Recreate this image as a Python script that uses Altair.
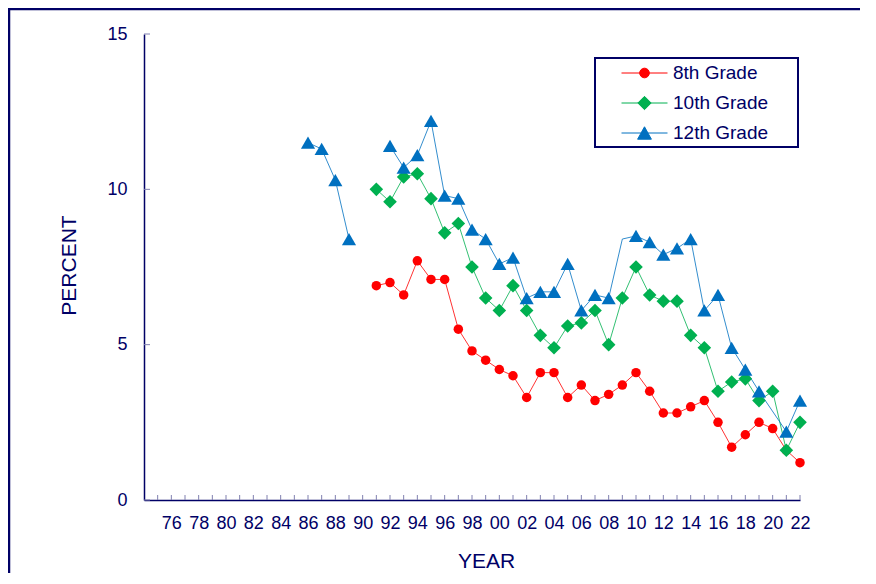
import altair as alt
import pandas as pd

# ---------------- data ----------------
grades = ["8th Grade", "10th Grade", "12th Grade"]
marker_colors = ["#FF0000", "#00B050", "#0070C0"]
marker_shapes = ["circle", "diamond", "triangle-up"]
marker_sizes = [90, 185, 200]

years_8 = list(range(1991, 2023))
values_8 = [6.9, 7.0, 6.6, 7.7, 7.1, 7.1, 5.5, 4.8, 4.5, 4.2,
            4.0, 3.3, 4.1, 4.1, 3.3, 3.7, 3.2, 3.4, 3.7, 4.1,
            3.5, 2.8, 2.8, 3.0, 3.2, 2.5, 1.7, 2.1, 2.5, 2.3,
            1.6, 1.2]

years_10 = list(range(1991, 2023))
values_10 = [10.0, 9.6, 10.4, 10.5, 9.7, 8.6, 8.9, 7.5, 6.5, 6.1,
             6.9, 6.1, 5.3, 4.9, 5.6, 5.7, 6.1, 5.0, 6.5, 7.5,
             6.6, 6.4, 6.4, 5.3, 4.9, 3.5, 3.8, 3.9, 3.2, 3.5,
             1.6, 2.5]

years_12 = [1986, 1987, 1988, 1989] + list(range(1992, 2020)) + [2021, 2022]
values_12 = [11.5, 11.3, 10.3, 8.4,
             11.4, 10.7, 11.1, 12.2, 9.8, 9.7, 8.7, 8.4, 7.6, 7.8,
             6.5, 6.7, 6.7, 7.6, 6.1, 6.6, 6.5, 8.4, 8.5, 8.3,
             7.9, 8.1, 8.4, 6.1, 6.6, 4.9, 4.2, 3.5,
             2.2, 3.2]
no_marker_12 = [2009]

tick_years = list(range(1975, 2023))
label_years = list(range(1976, 2023, 2))
y_ticks = [0, 5, 10, 15]

# ---------------- table ----------------
rows = []
for g, ys, vs, nomark in [(grades[0], years_8, values_8, []),
                          (grades[1], years_10, values_10, []),
                          (grades[2], years_12, values_12, no_marker_12)]:
    seg = 0
    prev = None
    for y, v in zip(ys, vs):
        if prev is not None and y - prev > 2:
            seg += 1
        prev = y
        rows.append({"grade": g, "year": y, "value": v,
                     "seg": f"{g}-{seg}", "marker": y not in nomark})
df = pd.DataFrame(rows)

NAVY = "#000066"
FONT = "Liberation Sans"
W, H = 656, 466

color_scale = alt.Scale(domain=grades, range=marker_colors)
x_scale = alt.Scale(domain=[1974, 2022], nice=False, zero=False)
y_scale = alt.Scale(domain=[0, 15], nice=False)

# legend symbol paths: short line with the marker on it
p_circle = "M-1,0H1M-0.21,0A0.21,0.21,0,1,1,0.21,0A0.21,0.21,0,1,1,-0.21,0Z"
p_diamond = "M-1,0H1M0,-0.29L0.29,0L0,0.29L-0.29,0Z"
p_tri = "M-1,0H1M0,-0.27L0.3,0.27L-0.3,0.27Z"

legend = alt.Legend(
    orient="none", legendX=477, legendY=30, title=None, padding=0,
    symbolSize=2116, symbolStrokeWidth=1, symbolOpacity=1,
    clipHeight=18, rowPadding=11,
    labelOffset=5, labelFontSize=19, labelFont=FONT, labelColor=NAVY,
    labelBaseline="middle",
)

x_axis = alt.Axis(
    values=label_years, labelExpr="substring(toString(datum.value), 2)",
    ticks=False, grid=False, labelFlush=False, labelOverlap=False,
    labelFontSize=18, labelFont=FONT, labelColor=NAVY, labelPadding=14,
    domainColor=NAVY, domainWidth=1.5,
    title="YEAR", titleFontSize=21, titleFont=FONT, titleFontWeight="normal",
    titleColor=NAVY, titleX=342, titleY=67, titleBaseline="alphabetic",
)
y_axis = alt.Axis(
    values=y_ticks, ticks=False, grid=False,
    labelFontSize=18, labelFont=FONT, labelColor=NAVY, labelPadding=17,
    domainColor=NAVY, domainWidth=1.5,
    title="PERCENT", titleFontSize=21, titleFont=FONT, titleFontWeight="normal",
    titleColor=NAVY, titleX=-69, titleY=231, titleAngle=-90,
    titleBaseline="alphabetic",
)

X = alt.X("year:Q", scale=x_scale, axis=x_axis)
Y = alt.Y("value:Q", scale=y_scale, axis=y_axis)

base = alt.Chart(df)

# layer with no rows that only provides the legend
legend_layer = base.transform_filter("false").mark_point(
    filled=True, opacity=1
).encode(
    x=X, y=Y,
    fill=alt.Fill("grade:N", scale=color_scale, legend=legend),
    stroke=alt.Stroke("grade:N", scale=color_scale, legend=legend),
    shape=alt.Shape("grade:N", scale=alt.Scale(domain=grades, range=[p_circle, p_diamond, p_tri]),
                    legend=legend),
)

lines = base.mark_line(strokeWidth=1, opacity=0.8).encode(
    x=X, y=Y,
    color=alt.Color("grade:N", scale=color_scale, legend=None),
    detail="seg:N",
    order="year:Q",
)

point_layers = []
for g, shp, sz in zip(grades, marker_shapes, marker_sizes):
    point_layers.append(
        base.transform_filter(alt.datum.marker & (alt.datum.grade == g)).mark_point(
            shape=shp, size=sz, filled=True, opacity=1
        ).encode(
            x=X, y=Y,
            color=alt.Color("grade:N", scale=color_scale, legend=None),
        )
    )

xticks = alt.Chart(pd.DataFrame({"year": tick_years})).mark_rule(
    color="#8080B0", strokeWidth=1
).encode(
    x=X,
    y=alt.value(H), y2=alt.value(H - 5),
)

yticks = alt.Chart(pd.DataFrame({"value": y_ticks})).mark_rule(
    color="#8080B0", strokeWidth=1
).encode(
    y=Y,
    x=alt.value(0), x2=alt.value(6),
)

one = pd.DataFrame({"k": [0]})
frame = alt.Chart(one).mark_rect(fillOpacity=0, stroke=NAVY, strokeWidth=2.5).encode(
    x=alt.value(-135), x2=alt.value(W + 300),
    y=alt.value(-25), y2=alt.value(H + 300),
)
legend_box = alt.Chart(one).mark_rect(fillOpacity=0, stroke=NAVY, strokeWidth=2).encode(
    x=alt.value(451), x2=alt.value(654),
    y=alt.value(24), y2=alt.value(113),
)

chart = alt.layer(frame, legend_box, legend_layer, xticks, yticks, lines, *point_layers).properties(
    width=W, height=H,
    autosize=alt.AutoSizeParams(type="none"),
    padding={"left": 136, "top": 26, "right": 60, "bottom": 73},
).configure(font=FONT).configure_view(stroke=None)

chart.save("out.html", embed_options={"renderer": "svg", "actions": False})
